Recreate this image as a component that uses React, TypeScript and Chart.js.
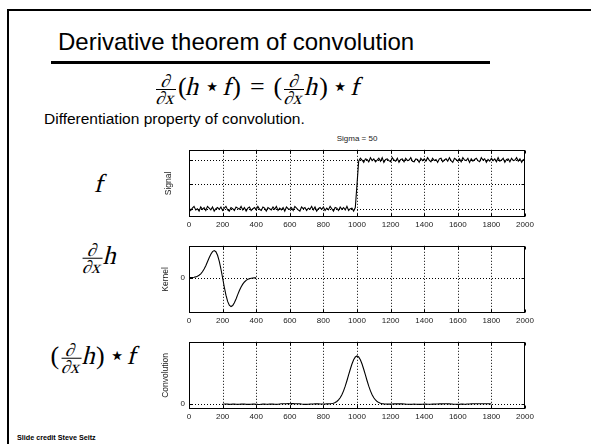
import React, { useEffect, useRef } from "react";
import { Chart, registerables } from "chart.js";

Chart.register(...registerables);

// ---- data ----------------------------------------------------------------

const X_TICKS = [0, 200, 400, 600, 800, 1000, 1200, 1400, 1600, 1800, 2000];

// noisy step signal: two plateaus, noise given in hundredths of the step height
const SIGNAL_STEP = 10;
const SIGNAL_LOW_LEVEL = 0;
const SIGNAL_HIGH_LEVEL = 1;
const SIGNAL_HIGH_START = 1010;
const SIGNAL_LOW_NOISE = [
  2, -3, 1, 4, -2, 0, -4, 3, -1, 2,
  -3, 4, 1, -2, 3, -4, 0, 2, -1, 3,
  -3, 1, 4, -2, -4, 2, 0, -3, 3, 1,
  -1, 4, -2, 2, -4, 1, 3, -3, 0, 2,
  -2, 4, -1, -3, 3, 1, -4, 2, 0, -2,
  3, -1, 4, -3, 1, -2, 2, -4, 3, 0,
  -1, 2, -3, 4, 1, -2, -4, 3, 0, 2,
  -3, 1, -1, 4, -2, 3, -4, 0, 2, -1,
  3, -3, 1, -2, 4, 0, -4, 2, 1, -3,
  3, -1, 2, -2, 4, -3, 0, 1, -4, 2,
];
const SIGNAL_HIGH_NOISE = [
  -2, 3, 0, -4, 2, 1, -3, 4, -1, 2,
  -3, 0, 3, -2, 4, -4, 1, 2, -1, -3,
  4, 0, -2, 3, -4, 1, 2, -3, 3, -1,
  0, 4, -2, -3, 2, 1, -4, 3, -1, 2,
  -2, 4, 0, -3, 3, -1, 1, -4, 2, 3,
  -3, 0, 2, -2, 4, -1, -4, 3, 1, -2,
  2, -3, 4, 0, -1, 3, -4, 2, -2, 1,
  3, -1, -3, 4, 0, 2, -4, 1, -2, 3,
  -1, 2, -3, 4, -2, 0, 3, -4, 1, 2,
  -3, 3, -1, 0, 4, -2, 2, -4, 1, -1,
];
const NOISE_UNIT = 0.012;

// derivative-of-Gaussian kernel (sigma = 50), sampled every 10 from 0 to 400
const KERNEL_STEP = 10;
const KERNEL_VALUES = [
  0.002, 0.005, 0.009, 0.017, 0.032, 0.055, 0.092, 0.146, 0.222, 0.323,
  0.446, 0.587, 0.733, 0.866, 0.963, 1.0, 0.958, 0.826, 0.609, 0.323,
  0,
  -0.34, -0.64, -0.87, -1.01, -1.06, -1.02, -0.92, -0.78, -0.62, -0.47,
  -0.34, -0.235, -0.155, -0.097, -0.058, -0.034, -0.018, -0.01, -0.005, -0.002,
];

// convolution result, sampled every 10 from 200 to 1800
const CONV_START = 200;
const CONV_STEP = 10;
const CONV_VALUES = [
  0, 0.004, 0.006, 0.003, -0.002, 0.001, 0.005, 0.004, 0, -0.003,
  -0.001, 0.002, 0.004, 0.003, 0.001, -0.002, -0.003, 0, 0.003, 0.002,
  0.001, -0.002, -0.004, -0.001, 0.002, 0.003, 0.001, -0.001, 0.002, 0.004,
  0.003, 0.001, -0.002, 0.001, 0.006, 0.01, 0.012, 0.011, 0.012, 0.013,
  0.012, 0.014, 0.013, 0.011, 0.012, 0.01, 0.008, 0.004, 0.001, -0.002,
  -0.003, -0.001, 0.002, 0.004, 0.006, 0.008, 0.009, 0.008, 0.007, 0.006,
  0.006, 0.007, 0.008, 0.009, 0.011, 0.015, 0.022, 0.036, 0.058, 0.09,
  0.135, 0.198, 0.278, 0.375, 0.487, 0.607, 0.726, 0.835, 0.923, 0.98,
  1.0, 0.98, 0.923, 0.835, 0.726, 0.607, 0.487, 0.375, 0.278, 0.198,
  0.135, 0.089, 0.056, 0.034, 0.02, 0.012, 0.008, 0.005, 0.004, 0.003,
  0.004, 0.006, 0.008, 0.009, 0.01, 0.009, 0.01, 0.008, 0.006, 0.003,
  0.001, -0.001, -0.002, 0, 0.002, 0.001, -0.001, -0.003, -0.002, 0,
  0.002, 0.003, 0.001, -0.001, 0.001, 0.003, 0.002, 0.004, 0.006, 0.008,
  0.01, 0.009, 0.011, 0.01, 0.008, 0.009, 0.006, 0.003, 0.001, -0.001,
  -0.002, 0, 0.002, 0.003, 0.001, 0.002, 0.004, 0.006, 0.009, 0.011,
  0.012, 0.01, 0.011, 0.012, 0.01, 0.011, 0.012, 0.01, 0.011, 0.009,
  0.006,
];

type Pt = { x: number; y: number };

const signalPoints: Pt[] = [
  ...SIGNAL_LOW_NOISE.map((n, i) => ({ x: i * SIGNAL_STEP, y: SIGNAL_LOW_LEVEL + n * NOISE_UNIT })),
  ...SIGNAL_HIGH_NOISE.map((n, i) => ({
    x: SIGNAL_HIGH_START + i * SIGNAL_STEP,
    y: SIGNAL_HIGH_LEVEL + n * NOISE_UNIT,
  })),
];
const kernelPoints: Pt[] = KERNEL_VALUES.map((v, i) => ({ x: i * KERNEL_STEP, y: v }));
const convPoints: Pt[] = CONV_VALUES.map((v, i) => ({ x: CONV_START + i * CONV_STEP, y: v }));

// ---- styling -------------------------------------------------------------

const SANS = '"Liberation Sans", Arial, Helvetica, sans-serif';
const SERIF = '"Liberation Serif", "Times New Roman", serif';
const AXIS_TEXT = "#1a1a1a";

const PLOT_LEFT = 150; // canvas left on the page
const PLOT_WIDTH = 400;
const Y_AXIS_W = 39;
const PAD_RIGHT = 25;
const PAD_TOP = 4;
const X_AXIS_H = 16;

// dotted grid, black box and inward tick marks in the classic MATLAB look
const matlabAxes = {
  id: "matlabAxes",
  beforeDatasetsDraw(chart: any, _args: any, opts: any) {
    const { ctx, chartArea: a, scales } = chart;
    const x = scales.x;
    const y = scales.y;
    ctx.save();
    ctx.strokeStyle = "#000";
    ctx.lineWidth = 1;
    ctx.setLineDash([1, 2]);
    for (const v of X_TICKS) {
      if (v === X_TICKS[0] || v === X_TICKS[X_TICKS.length - 1]) continue;
      const px = Math.round(x.getPixelForValue(v)) + 0.5;
      ctx.beginPath();
      ctx.moveTo(px, a.top);
      ctx.lineTo(px, a.bottom);
      ctx.stroke();
    }
    for (const v of opts.yGrid as number[]) {
      const py = Math.round(y.getPixelForValue(v)) + 0.5;
      ctx.beginPath();
      ctx.moveTo(a.left, py);
      ctx.lineTo(a.right, py);
      ctx.stroke();
    }
    ctx.restore();
  },
  afterDatasetsDraw(chart: any, _args: any, opts: any) {
    const { ctx, chartArea: a, scales } = chart;
    const x = scales.x;
    const y = scales.y;
    const L = Math.round(a.left) + 0.5;
    const R = Math.round(a.right) - 0.5;
    const T = Math.round(a.top) + 0.5;
    const B = Math.round(a.bottom) - 0.5;
    ctx.save();
    ctx.strokeStyle = "#000";
    ctx.lineWidth = 1;
    ctx.setLineDash([]);
    ctx.strokeRect(L, T, R - L, B - T);
    const tl = 3;
    ctx.beginPath();
    for (const v of X_TICKS) {
      const px = Math.round(x.getPixelForValue(v)) + 0.5;
      ctx.moveTo(px, B);
      ctx.lineTo(px, B - tl);
      ctx.moveTo(px, T);
      ctx.lineTo(px, T + tl);
    }
    for (const v of opts.yGrid as number[]) {
      const py = Math.round(y.getPixelForValue(v)) + 0.5;
      ctx.moveTo(L, py);
      ctx.lineTo(L + tl, py);
      ctx.moveTo(R, py);
      ctx.lineTo(R - tl, py);
    }
    ctx.stroke();
    ctx.restore();
  },
};

type PlotProps = {
  top: number;
  bottom: number;
  points: Pt[];
  yMin: number;
  yMax: number;
  yTicks: number[];
  showYLabels: boolean;
  yTitle: string;
  titleGap: number;
};

function Plot({ top, bottom, points, yMin, yMax, yTicks, showYLabels, yTitle, titleGap }: PlotProps) {
  const ref = useRef<HTMLCanvasElement>(null);

  useEffect(() => {
    const tickFont = { family: SANS, size: 8 };
    const chart = new Chart(ref.current as HTMLCanvasElement, {
      type: "line",
      data: {
        datasets: [
          {
            data: points,
            borderColor: "#000",
            borderWidth: 1.1,
            pointRadius: 0,
            tension: 0,
            fill: false,
          },
        ],
      },
      options: {
        animation: false,
        responsive: true,
        maintainAspectRatio: false,
        events: [],
        layout: { padding: { left: 0, right: PAD_RIGHT, top: PAD_TOP, bottom: 0 } },
        plugins: {
          legend: { display: false },
          tooltip: { enabled: false },
          matlabAxes: { yGrid: yTicks },
        } as any,
        scales: {
          x: {
            type: "linear",
            min: X_TICKS[0],
            max: X_TICKS[X_TICKS.length - 1],
            grid: { display: false, drawTicks: false },
            border: { display: false },
            afterBuildTicks: (s: any) => {
              s.ticks = X_TICKS.map((v) => ({ value: v }));
            },
            afterFit: (s: any) => {
              s.height = X_AXIS_H;
            },
            ticks: {
              autoSkip: false,
              maxRotation: 0,
              padding: 3,
              color: AXIS_TEXT,
              font: tickFont,
              callback: (v: any) => String(v),
            },
          },
          y: {
            type: "linear",
            min: yMin,
            max: yMax,
            grid: { display: false, drawTicks: false },
            border: { display: false },
            afterBuildTicks: (s: any) => {
              s.ticks = yTicks.map((v) => ({ value: v }));
            },
            afterFit: (s: any) => {
              s.width = Y_AXIS_W;
            },
            ticks: {
              padding: 4,
              color: AXIS_TEXT,
              font: tickFont,
              callback: (v: any) => (showYLabels ? String(v) : ""),
            },
            title: {
              display: true,
              text: yTitle,
              color: AXIS_TEXT,
              font: { family: SANS, size: 8.5 },
              padding: { top: titleGap, bottom: 0 },
            },
          },
        },
      },
      plugins: [matlabAxes as any],
    });
    return () => chart.destroy();
  }, []);

  const h = bottom - top + PAD_TOP + X_AXIS_H;
  return (
    <div style={{ position: "absolute", left: PLOT_LEFT, top: top - PAD_TOP, width: PLOT_WIDTH, height: h }}>
      <canvas ref={ref} />
    </div>
  );
}

// ---- math typesetting helpers -------------------------------------------

// math italic: the serif face is upright only, so slant it
const I = ({ children }: { children: React.ReactNode }) => (
  <span style={{ display: "inline-block", transform: "skewX(-14deg)", fontStyle: "normal" }}>{children}</span>
);

function Dx({ size }: { size: number }) {
  const part = { lineHeight: `${Math.round(size * 0.8)}px` };
  return (
    <span
      style={{
        display: "inline-flex",
        flexDirection: "column",
        alignItems: "center",
        verticalAlign: "middle",
        fontSize: size,
        margin: "0 2px",
      }}
    >
      <span style={{ ...part, padding: "0 1px 1px" }}>
        <I>∂</I>
      </span>
      <span style={{ ...part, borderTop: "1px solid #000", padding: "1px 1px 0" }}>
        <I>∂x</I>
      </span>
    </span>
  );
}

const Op = ({ c, gap }: { c: string; gap: number }) => (
  <span style={{ margin: `0 ${gap}px` }}>{c}</span>
);

const mathStyle = {
  position: "absolute" as const,
  fontFamily: SERIF,
  fontSize: 26,
  whiteSpace: "nowrap" as const,
  lineHeight: "30px",
};

export default function App() {
  return (
    <div
      style={{
        position: "absolute",
        left: 0,
        top: 0,
        width: 591,
        height: 444,
        overflow: "hidden",
        background: "#fff",
        color: "#000",
        fontFamily: SANS,
      }}
    >
      {/* slide frame */}
      <div style={{ position: "absolute", left: 7, top: 9, width: 2, height: 435, background: "#000" }} />
      <div style={{ position: "absolute", left: 7, top: 9, width: 584, height: 2, background: "#000" }} />

      {/* heading */}
      <div style={{ position: "absolute", left: 58, top: 30, fontSize: 24, lineHeight: "24px", whiteSpace: "nowrap" }}>
        Derivative theorem of convolution
      </div>
      <div style={{ position: "absolute", left: 51, top: 61, width: 439, height: 3, background: "#000" }} />

      {/* theorem */}
      <div style={{ ...mathStyle, left: 154, top: 72 }}>
        <Dx size={18} />(<I>h</I>
        <Op c="⋆" gap={4} />
        <I>f</I>)
        <Op c="=" gap={9} />
        (<Dx size={18} />
        <I>h</I>)
        <Op c="⋆" gap={4} />
        <I>f</I>
      </div>

      <div style={{ position: "absolute", left: 44, top: 109, fontSize: 15.5, lineHeight: "20px", whiteSpace: "nowrap" }}>
        Differentiation property of convolution.
      </div>

      <div
        style={{
          position: "absolute",
          left: 357,
          top: 138,
          transform: "translate(-50%, -50%)",
          fontSize: 8,
          color: AXIS_TEXT,
          whiteSpace: "nowrap",
        }}
      >
        Sigma = 50
      </div>

      {/* row labels */}
      <div style={{ ...mathStyle, left: 100, top: 184, transform: "translate(-50%, -50%)" }}>
        <I>f</I>
      </div>
      <div style={{ ...mathStyle, left: 99, top: 257, transform: "translate(-50%, -50%)" }}>
        <Dx size={18} />
        <I>h</I>
      </div>
      <div style={{ ...mathStyle, left: 94, top: 357, transform: "translate(-50%, -50%)" }}>
        (<Dx size={18} />
        <I>h</I>)
        <Op c="⋆" gap={4} />
        <I>f</I>
      </div>

      <Plot
        top={145}
        bottom={217}
        points={signalPoints}
        yMin={-0.17}
        yMax={1.21}
        yTicks={[0, 0.5, 1]}
        showYLabels={false}
        yTitle="Signal"
        titleGap={14}
      />
      <Plot
        top={241}
        bottom={313}
        points={kernelPoints}
        yMin={-1.296}
        yMax={1.176}
        yTicks={[0]}
        showYLabels={true}
        yTitle="Kernel"
        titleGap={11}
      />
      <Plot
        top={337}
        bottom={409}
        points={convPoints}
        yMin={-0.098}
        yMax={1.294}
        yTicks={[0]}
        showYLabels={true}
        yTitle="Convolution"
        titleGap={11}
      />

      <div
        style={{
          position: "absolute",
          left: 17,
          top: 437,
          transform: "translateY(-50%)",
          fontSize: 7.2,
          fontWeight: "bold",
          whiteSpace: "nowrap",
        }}
      >
        Slide credit Steve Seitz
      </div>
    </div>
  );
}
